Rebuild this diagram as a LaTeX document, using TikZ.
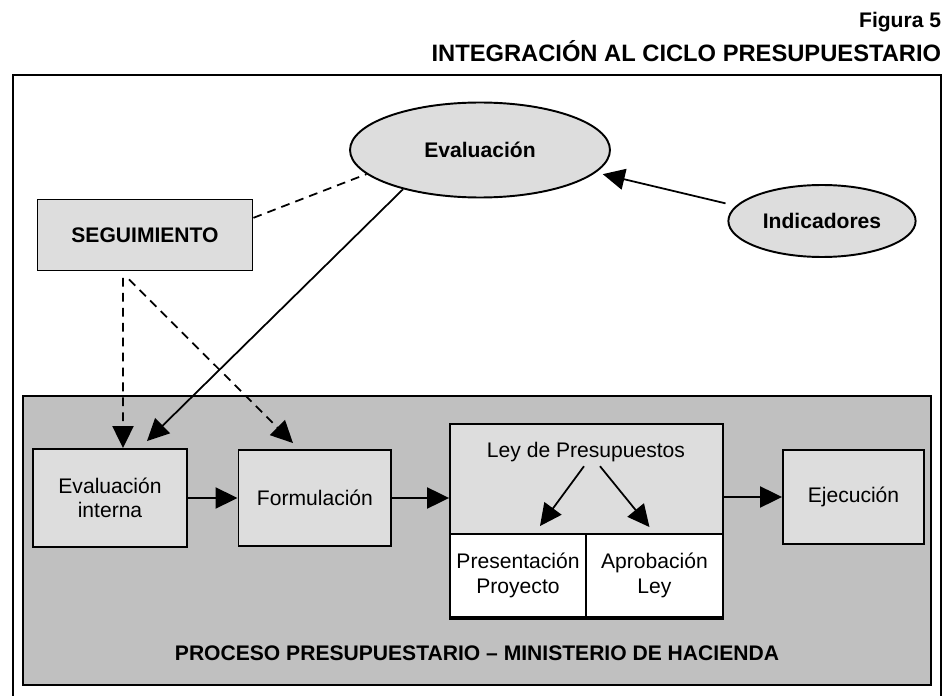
\documentclass[tikz,border=0pt]{standalone}
\usepackage{fontspec}
\setmainfont{Liberation Sans}
\usetikzlibrary{shapes.geometric,arrows.meta}
\definecolor{grisclaro}{HTML}{DDDDDD}
\definecolor{grisfondo}{HTML}{C0C0C0}

\begin{document}
\begin{tikzpicture}[x=0.02cm,y=-0.02cm,>={Triangle[length=12.5pt,width=12pt]},line width=1pt,align=center,
    caja/.style={draw,line width=1.1pt,fill=grisclaro,inner sep=2pt},
    elipse/.style={ellipse,draw,line width=1.1pt,fill=grisclaro,font=\bfseries},
    punteada/.style={dash pattern=on 5pt off 3.5pt}]
        \useasboundingbox (0,0) rectangle (948,696);
        \fontsize{12}{14}\selectfont

        \node[anchor=east,inner sep=0pt,font=\bfseries] (fig) at (942,22) {Figura 5};
        \node[anchor=east,inner sep=0pt,font=\fontsize{13.5}{16}\selectfont\bfseries] (tit) at (942,51)
            {INTEGRACIÓN AL CICLO PRESUPUESTARIO};
        \draw[line width=1.1pt] (13,698) |- (941,75) -- (941,698);

        \node[elipse,minimum width=5.2cm,minimum height=1.9cm] (eval) at (480,150) {Evaluación};
        \node[elipse,minimum width=3.74cm,minimum height=1.44cm] (ind) at (822,221) {Indicadores};
        \node[caja,font=\bfseries,minimum width=4.3cm,minimum height=1.42cm] (seg) at (145,235) {SEGUIMIENTO};

        \draw[line width=1.1pt,fill=grisfondo] (23,396) rectangle (931,685);
        \node[caja,minimum width=3.08cm,minimum height=1.96cm] (evi) at (110,498) {Evaluación\\interna};
        \node[caja,minimum width=3.06cm,minimum height=1.92cm,right of=evi,node distance=4.1cm] (form) {Formulación};
        \node[caja,minimum width=5.46cm,minimum height=3.9cm] (ley) at (586.5,521.5) {};
        \node[inner sep=2pt] (leyt) at (586,452) {Ley de Presupuestos};
        \node[caja,fill=white,minimum width=2.72cm,minimum height=1.66cm] (pres) at (518,575.5) {Presentación\\Proyecto};
        \node[caja,fill=white,minimum width=2.74cm,minimum height=1.66cm,right of=pres,node distance=2.73cm] (apr) {Aprobación\\Ley};
        \node[caja,minimum width=2.82cm,minimum height=1.88cm] (ejec) at (853.5,497) {Ejecución};
        \node[font=\bfseries] (proc) at (477,653) {PROCESO PRESUPUESTARIO – MINISTERIO DE HACIENDA};

        \path[->] (ind.170) edge[shorten <=6pt,shorten >=4pt] (eval.-11)
                  (eval.207) edge ([xshift=0.74cm,yshift=0.14cm]evi.north)
                  (evi) edge (form)
                  (form.east) edge (form.east -| ley.west)
                  (ejec.west -| ley.east) edge (ejec.west)
                  ([xshift=-0.04cm]leyt.south) edge ([xshift=0.44cm,yshift=0.14cm]pres.north)
                  ([xshift=0.28cm]leyt.south) edge ([xshift=-0.1cm,yshift=0.12cm]apr.north);
        \path[punteada] (seg.9) edge (eval.192)
                  ([xshift=-0.44cm,yshift=-0.13cm]seg.south) edge[->] ([xshift=0.26cm]evi.north)
                  ([xshift=-0.32cm,yshift=-0.16cm]seg.south) edge[->] ([xshift=-0.44cm,yshift=0.12cm]form.north);
    \end{tikzpicture}
\end{document}
